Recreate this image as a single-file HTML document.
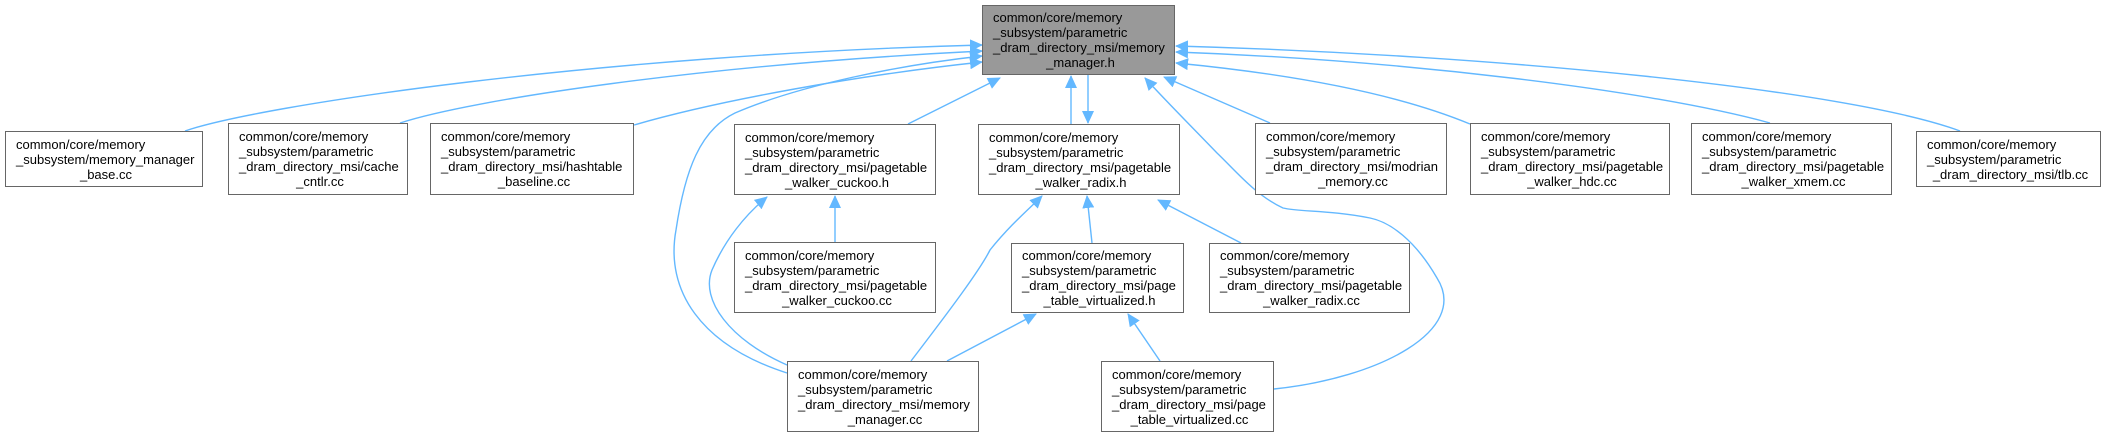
<!DOCTYPE html>
<html><head><meta charset="utf-8"><style>
html,body{margin:0;padding:0;background:#fff;}
#c{position:relative;width:2103px;height:437px;overflow:hidden;font-family:"Liberation Sans",Arial,sans-serif;font-size:13px;color:#000;}
.n{position:absolute;box-sizing:border-box;border:1.5px solid #666;background:#fff;display:flex;flex-direction:column;justify-content:center;padding-left:10px;padding-right:6px;line-height:15px;white-space:pre;}
.n .l{text-align:center;}
svg{position:absolute;left:0;top:0;}
</style></head><body><div id="c">
<svg width="2103" height="437">
<defs><marker id="a" markerUnits="userSpaceOnUse" markerWidth="14" markerHeight="12" refX="12" refY="6" orient="auto"><path d="M0,0 L13,6 L0,12 z" fill="#63b8ff"/></marker></defs>
<g fill="none" stroke="#63b8ff" stroke-width="1.4" marker-end="url(#a)">
<path d="M185,131 C260,105 600,55 982,45"/>
<path d="M400,123 C470,100 700,65 982,51"/>
<path d="M634,125 C720,100 860,75 982,62"/>
<path d="M787,373 C700,345 665,290 676,230 C685,170 700,130 735,113 C800,85 900,65 982,56"/>
<path d="M908,124 L1000,78"/>
<path d="M1071,124 L1071,76"/>
<path d="M1088,75 L1088,123"/>
<path d="M1274,389 C1380,378 1470,330 1437,278 C1415,240 1390,222 1370,218 C1330,210 1300,212 1283,208 C1255,195 1235,170 1217,153 C1190,125 1165,100 1145,78"/>
<path d="M1270,123 L1164,77"/>
<path d="M1470,124 C1400,95 1300,75 1176,63"/>
<path d="M1770,123 C1650,90 1400,60 1176,52"/>
<path d="M1960,131 C1850,90 1500,55 1176,46"/>
<path d="M835,242 L835,196"/>
<path d="M787,365 C730,340 700,300 712,270 C725,240 745,215 767,197"/>
<path d="M911,361 C950,310 980,270 990,250 C1010,225 1030,208 1042,196"/>
<path d="M947,361 L1036,314"/>
<path d="M1092,243 L1087,196"/>
<path d="M1241,243 L1158,200"/>
<path d="M1160,361 L1128,314"/>
</g></svg>
<div class="n" style="left:982px;top:5px;width:193px;height:70px;background:#999;">common/core/memory
_subsystem/parametric
_dram_directory_msi/memory
<span class="l">_manager.h</span></div>
<div class="n" style="left:5px;top:131px;width:198px;height:56px;">common/core/memory
_subsystem/memory_manager
<span class="l">_base.cc</span></div>
<div class="n" style="left:228px;top:123px;width:180px;height:72px;">common/core/memory
_subsystem/parametric
_dram_directory_msi/cache
<span class="l">_cntlr.cc</span></div>
<div class="n" style="left:430px;top:123px;width:204px;height:72px;">common/core/memory
_subsystem/parametric
_dram_directory_msi/hashtable
<span class="l">_baseline.cc</span></div>
<div class="n" style="left:734px;top:124px;width:202px;height:71px;">common/core/memory
_subsystem/parametric
_dram_directory_msi/pagetable
<span class="l">_walker_cuckoo.h</span></div>
<div class="n" style="left:978px;top:124px;width:202px;height:71px;">common/core/memory
_subsystem/parametric
_dram_directory_msi/pagetable
<span class="l">_walker_radix.h</span></div>
<div class="n" style="left:1255px;top:123px;width:192px;height:72px;">common/core/memory
_subsystem/parametric
_dram_directory_msi/modrian
<span class="l">_memory.cc</span></div>
<div class="n" style="left:1470px;top:123px;width:200px;height:72px;">common/core/memory
_subsystem/parametric
_dram_directory_msi/pagetable
<span class="l">_walker_hdc.cc</span></div>
<div class="n" style="left:1691px;top:123px;width:201px;height:72px;">common/core/memory
_subsystem/parametric
_dram_directory_msi/pagetable
<span class="l">_walker_xmem.cc</span></div>
<div class="n" style="left:1916px;top:131px;width:185px;height:56px;">common/core/memory
_subsystem/parametric
<span class="l">_dram_directory_msi/tlb.cc</span></div>
<div class="n" style="left:734px;top:242px;width:202px;height:71px;">common/core/memory
_subsystem/parametric
_dram_directory_msi/pagetable
<span class="l">_walker_cuckoo.cc</span></div>
<div class="n" style="left:1011px;top:243px;width:173px;height:70px;">common/core/memory
_subsystem/parametric
_dram_directory_msi/page
<span class="l">_table_virtualized.h</span></div>
<div class="n" style="left:1209px;top:243px;width:201px;height:70px;">common/core/memory
_subsystem/parametric
_dram_directory_msi/pagetable
<span class="l">_walker_radix.cc</span></div>
<div class="n" style="left:787px;top:361px;width:192px;height:71px;">common/core/memory
_subsystem/parametric
_dram_directory_msi/memory
<span class="l">_manager.cc</span></div>
<div class="n" style="left:1101px;top:361px;width:173px;height:71px;">common/core/memory
_subsystem/parametric
_dram_directory_msi/page
<span class="l">_table_virtualized.cc</span></div>
</div></body></html>
